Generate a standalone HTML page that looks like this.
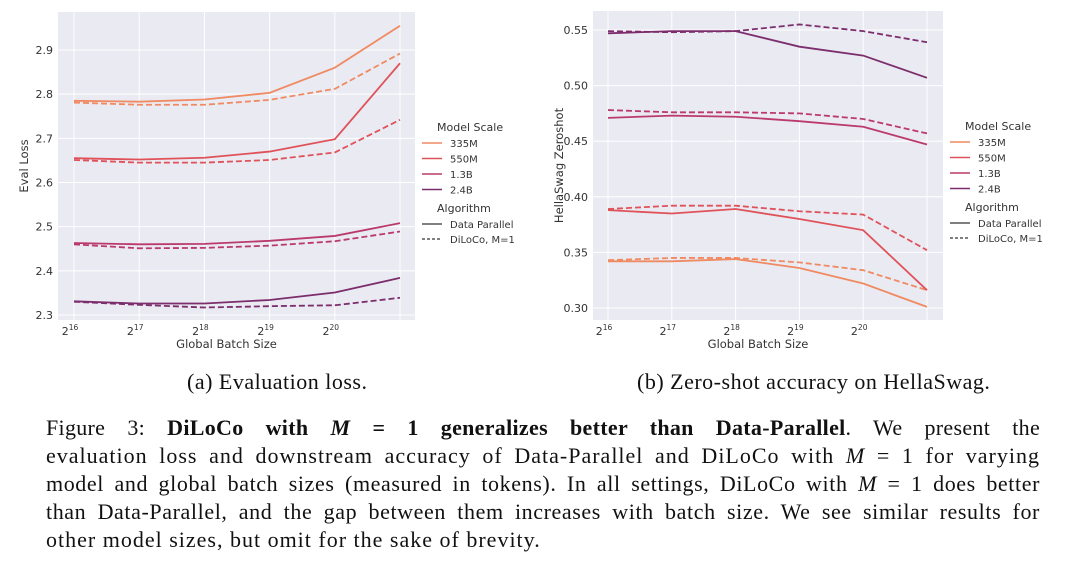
<!DOCTYPE html>
<html><head><meta charset="utf-8">
<style>
body{margin:0;width:1080px;height:563px;background:#fff;overflow:hidden;position:relative;font-family:"Liberation Serif",serif;}
svg{position:absolute;left:0;top:0}
svg text{font-family:"DejaVu Sans","Liberation Sans",sans-serif;fill:#333}
.cap{position:absolute;font-size:22px;line-height:24px;top:370px;color:#111;letter-spacing:0.5px}
.ln{position:absolute;left:46px;width:994px;font-size:22px;letter-spacing:1px;text-align:justify;text-align-last:justify;white-space:nowrap;color:#111;line-height:24px}
i{font-style:italic}
</style></head><body>
<svg id="chart" width="1080" height="363"></svg>
<div class="cap" style="left:187px">(a) Evaluation loss.</div>
<div class="cap" style="left:637px">(b) Zero-shot accuracy on HellaSwag.</div>
<div class="ln" style="top:416px;letter-spacing:0.3px">Figure 3: <b>DiLoCo with <i>M</i> = 1 generalizes better than Data-Parallel</b>. We present the</div>
<div class="ln" style="top:444px">evaluation loss and downstream accuracy of Data-Parallel and DiLoCo with <i>M</i> = 1 for varying</div>
<div class="ln" style="top:472px;letter-spacing:0.6px">model and global batch sizes (measured in tokens). In all settings, DiLoCo with <i>M</i> = 1 does better</div>
<div class="ln" style="top:500px;letter-spacing:0.6px">than Data-Parallel, and the gap between them increases with batch size. We see similar results for</div>
<div class="ln" style="top:528px;width:auto;text-align-last:left">other model sizes, but omit for the sake of brevity.</div>
<script>
const models=["335M","550M","1.3B","2.4B"];
const xTickLabels=["16","17","18","19","20"];
const lossDP=[[2.785,2.783,2.788,2.803,2.86,2.955],[2.655,2.652,2.656,2.67,2.698,2.87],[2.463,2.46,2.461,2.468,2.479,2.508],[2.331,2.326,2.326,2.334,2.351,2.384]];
const lossDL=[[2.781,2.776,2.776,2.787,2.812,2.892],[2.651,2.645,2.645,2.651,2.668,2.742],[2.46,2.451,2.452,2.457,2.467,2.489],[2.33,2.323,2.317,2.32,2.322,2.339]];
const lossTicks=[2.3,2.4,2.5,2.6,2.7,2.8,2.9];
const hsDP=[[0.342,0.342,0.344,0.336,0.322,0.301],[0.388,0.385,0.389,0.380,0.370,0.316],[0.471,0.473,0.472,0.468,0.463,0.447],[0.547,0.549,0.549,0.535,0.527,0.507]];
const hsDL=[[0.343,0.345,0.345,0.341,0.334,0.316],[0.389,0.392,0.392,0.387,0.384,0.352],[0.478,0.476,0.476,0.475,0.47,0.457],[0.549,0.548,0.549,0.555,0.549,0.539]];
const hsTicks=[0.30,0.35,0.40,0.45,0.50,0.55];
const colors=["#ef8a62","#e0525a","#bb3a6c","#7b2d6c"];
const NS="http://www.w3.org/2000/svg";
const svg=document.getElementById('chart');
function el(t,a,p){const e=document.createElementNS(NS,t);for(const k in a)e.setAttribute(k,a[k]);(p||svg).appendChild(e);return e;}
function panel(cfg){
  const g=el('g',{});
  
  
  const bg=el('rect',{x:cfg.L,y:cfg.T,width:cfg.R-cfg.L,height:cfg.B-cfg.T,fill:'#eaeaf2'},g);
  
  
  const X=i=>cfg.x0+i*cfg.dx;
  const Y=v=>cfg.y0+(v-cfg.v0)*(cfg.y1-cfg.y0)/(cfg.v1-cfg.v0);
  cfg.ticks.forEach(v=>{
    el('line',{x1:cfg.L,x2:cfg.R,y1:Y(v),y2:Y(v),stroke:'#fff','stroke-width':1},g);
    const t=el('text',{x:cfg.L-5,y:Y(v)+4,'font-size':11,'text-anchor':'end'},g);
    t.textContent=cfg.fmt(v);
    
    
  });
  for(let i=0;i<6;i++) el('line',{x1:X(i),x2:X(i),y1:cfg.T,y2:cfg.B,stroke:'#fff','stroke-width':1},g);
  xTickLabels.forEach((s,i)=>{
    const t=el('text',{x:X(i)-4,y:cfg.B+15,'font-size':11,'text-anchor':'middle'},g);
    t.innerHTML='2<tspan dy="-5" font-size="7.5">'+s+'</tspan>';
    
    
  });
  const xt=el('text',{x:(cfg.L+cfg.R)/2-10,y:cfg.B+28,'font-size':11.5,'text-anchor':'middle'},g);
  xt.textContent='Global Batch Size';
  
  
  const yt=el('text',{x:0,y:0,'font-size':11.5,'text-anchor':'middle',transform:`translate(${cfg.L-30},${(cfg.T+cfg.B)/2}) rotate(-90)`},g);
  yt.textContent=cfg.ytitle;
  
  
  [[cfg.dl,'6,3'],[cfg.dp,null]].forEach(([set,dash])=>{
    set.forEach((arr,m)=>{
      const p=el('path',{d:arr.map((v,i)=>(i?'L':'M')+X(i)+','+Y(v)).join(''),fill:'none',stroke:colors[m],'stroke-width':1.8},g);
      if(dash)p.setAttribute('stroke-dasharray',dash);
      
      
    });
  });
  const lx=cfg.R+12, ly=cfg.legY;
  const lg=el('g',{},g);
  
  
  let t=el('text',{x:lx+10,y:ly,'font-size':11},lg);t.textContent='Model Scale';
  models.forEach((m,i)=>{
    const yy=ly+16+i*15.5;
    el('line',{x1:lx-5,x2:lx+15,y1:yy-4,y2:yy-4,stroke:colors[i],'stroke-width':1.6},lg);
    const tt=el('text',{x:lx+23,y:yy,'font-size':10},lg);tt.textContent=m;
    
    
  });
  t=el('text',{x:lx+10,y:ly+81,'font-size':11},lg);t.textContent='Algorithm';
  el('line',{x1:lx-5,x2:lx+15,y1:ly+93,y2:ly+93,stroke:'#333','stroke-width':1.3},lg);
  t=el('text',{x:lx+23,y:ly+97,'font-size':10},lg);t.textContent='Data Parallel';
  el('line',{x1:lx-5,x2:lx+15,y1:ly+108,y2:ly+108,stroke:'#333','stroke-width':1.3,'stroke-dasharray':'3,2'},lg);
  t=el('text',{x:lx+23,y:ly+112,'font-size':10},lg);t.textContent='DiLoCo, M=1';
}
panel({name:'eval-loss-chart',L:58,R:415,T:12,B:320,x0:74,dx:65.2,v0:2.9,v1:2.3,y0:50,y1:315,ticks:lossTicks,fmt:v=>v.toFixed(1),ytitle:'Eval Loss',dp:lossDP,dl:lossDL,legY:131});
panel({name:'hellaswag-chart',L:593,R:943,T:11,B:320,x0:608,dx:63.8,v0:0.55,v1:0.30,y0:30,y1:308,ticks:hsTicks,fmt:v=>v.toFixed(2),ytitle:'HellaSwag Zeroshot',dp:hsDP,dl:hsDL,legY:130});
</script>
</body></html>
